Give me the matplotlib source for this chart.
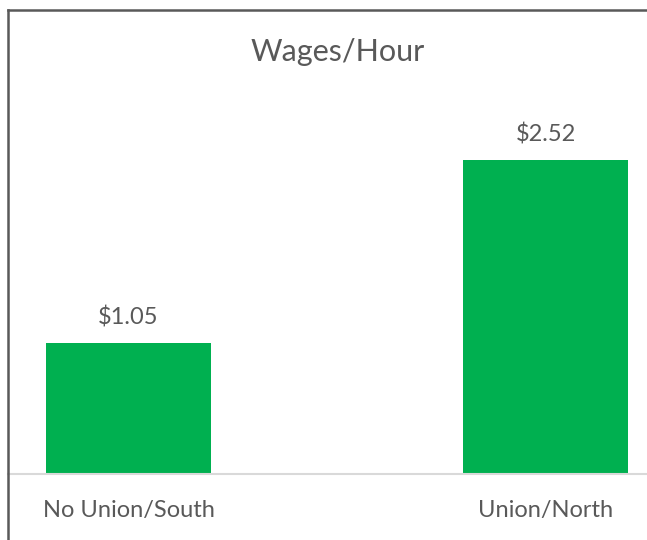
import matplotlib.pyplot as plt
from matplotlib.lines import Line2D

# data
categories = ["No Union/South", "Union/North"]
wages = [1.05, 2.52]
labels = ["$1.05", "$2.52"]

plt.rcParams['font.family'] = ['Lato', 'DejaVu Sans']
text_color = "#595959"

fig = plt.figure(figsize=(6.47, 5.40), dpi=100)
W, H = 647, 540

# axes placed in pixel terms (chart is cropped on right/bottom)
ax_left, ax_right = 8, 647
ax_bottom, ax_top = 474, 99.6
ax_h = ax_bottom - ax_top
ax = fig.add_axes([ax_left / W, 1 - ax_bottom / H,
                   (ax_right - ax_left) / W, ax_h / H])

x = list(range(len(categories)))
bars = ax.bar(x, wages, width=0.396, color="#00B050", zorder=2)

ax.set_xlim(-0.289, 1.243)
ax.set_ylim(0, 3)

for b, lab in zip(bars, labels):
    ax.annotate(lab, (b.get_x() + b.get_width() / 2, b.get_height()),
                xytext=(0, 13), textcoords="offset points",
                ha="center", va="baseline", fontsize=17, color=text_color)

# category labels below baseline
for xi, cat in zip(x, categories):
    ax.text(xi, -43 / ax_h, cat, transform=ax.get_xaxis_transform(),
            ha="center", va="baseline", fontsize=17, color=text_color)

ax.set_xticks([])
ax.set_yticks([])

for s in ["top", "right", "left"]:
    ax.spines[s].set_visible(False)
ax.spines["bottom"].set_color("#D9D9D9")
ax.spines["bottom"].set_linewidth(1.5)
ax.spines["bottom"].set_zorder(3)

# chart border (top and left visible in crop)
fig.add_artist(Line2D([8 / W, 8 / W], [0, 1 - 10 / H], color="#595959", lw=1.8))
fig.add_artist(Line2D([8 / W, 1], [1 - 10 / H, 1 - 10 / H], color="#595959", lw=1.8))

fig.text(338 / W, 1 - 61 / H, "Wages/Hour", ha="center", va="baseline",
         fontsize=22, color=text_color)

fig.savefig("out.png", dpi=100)
